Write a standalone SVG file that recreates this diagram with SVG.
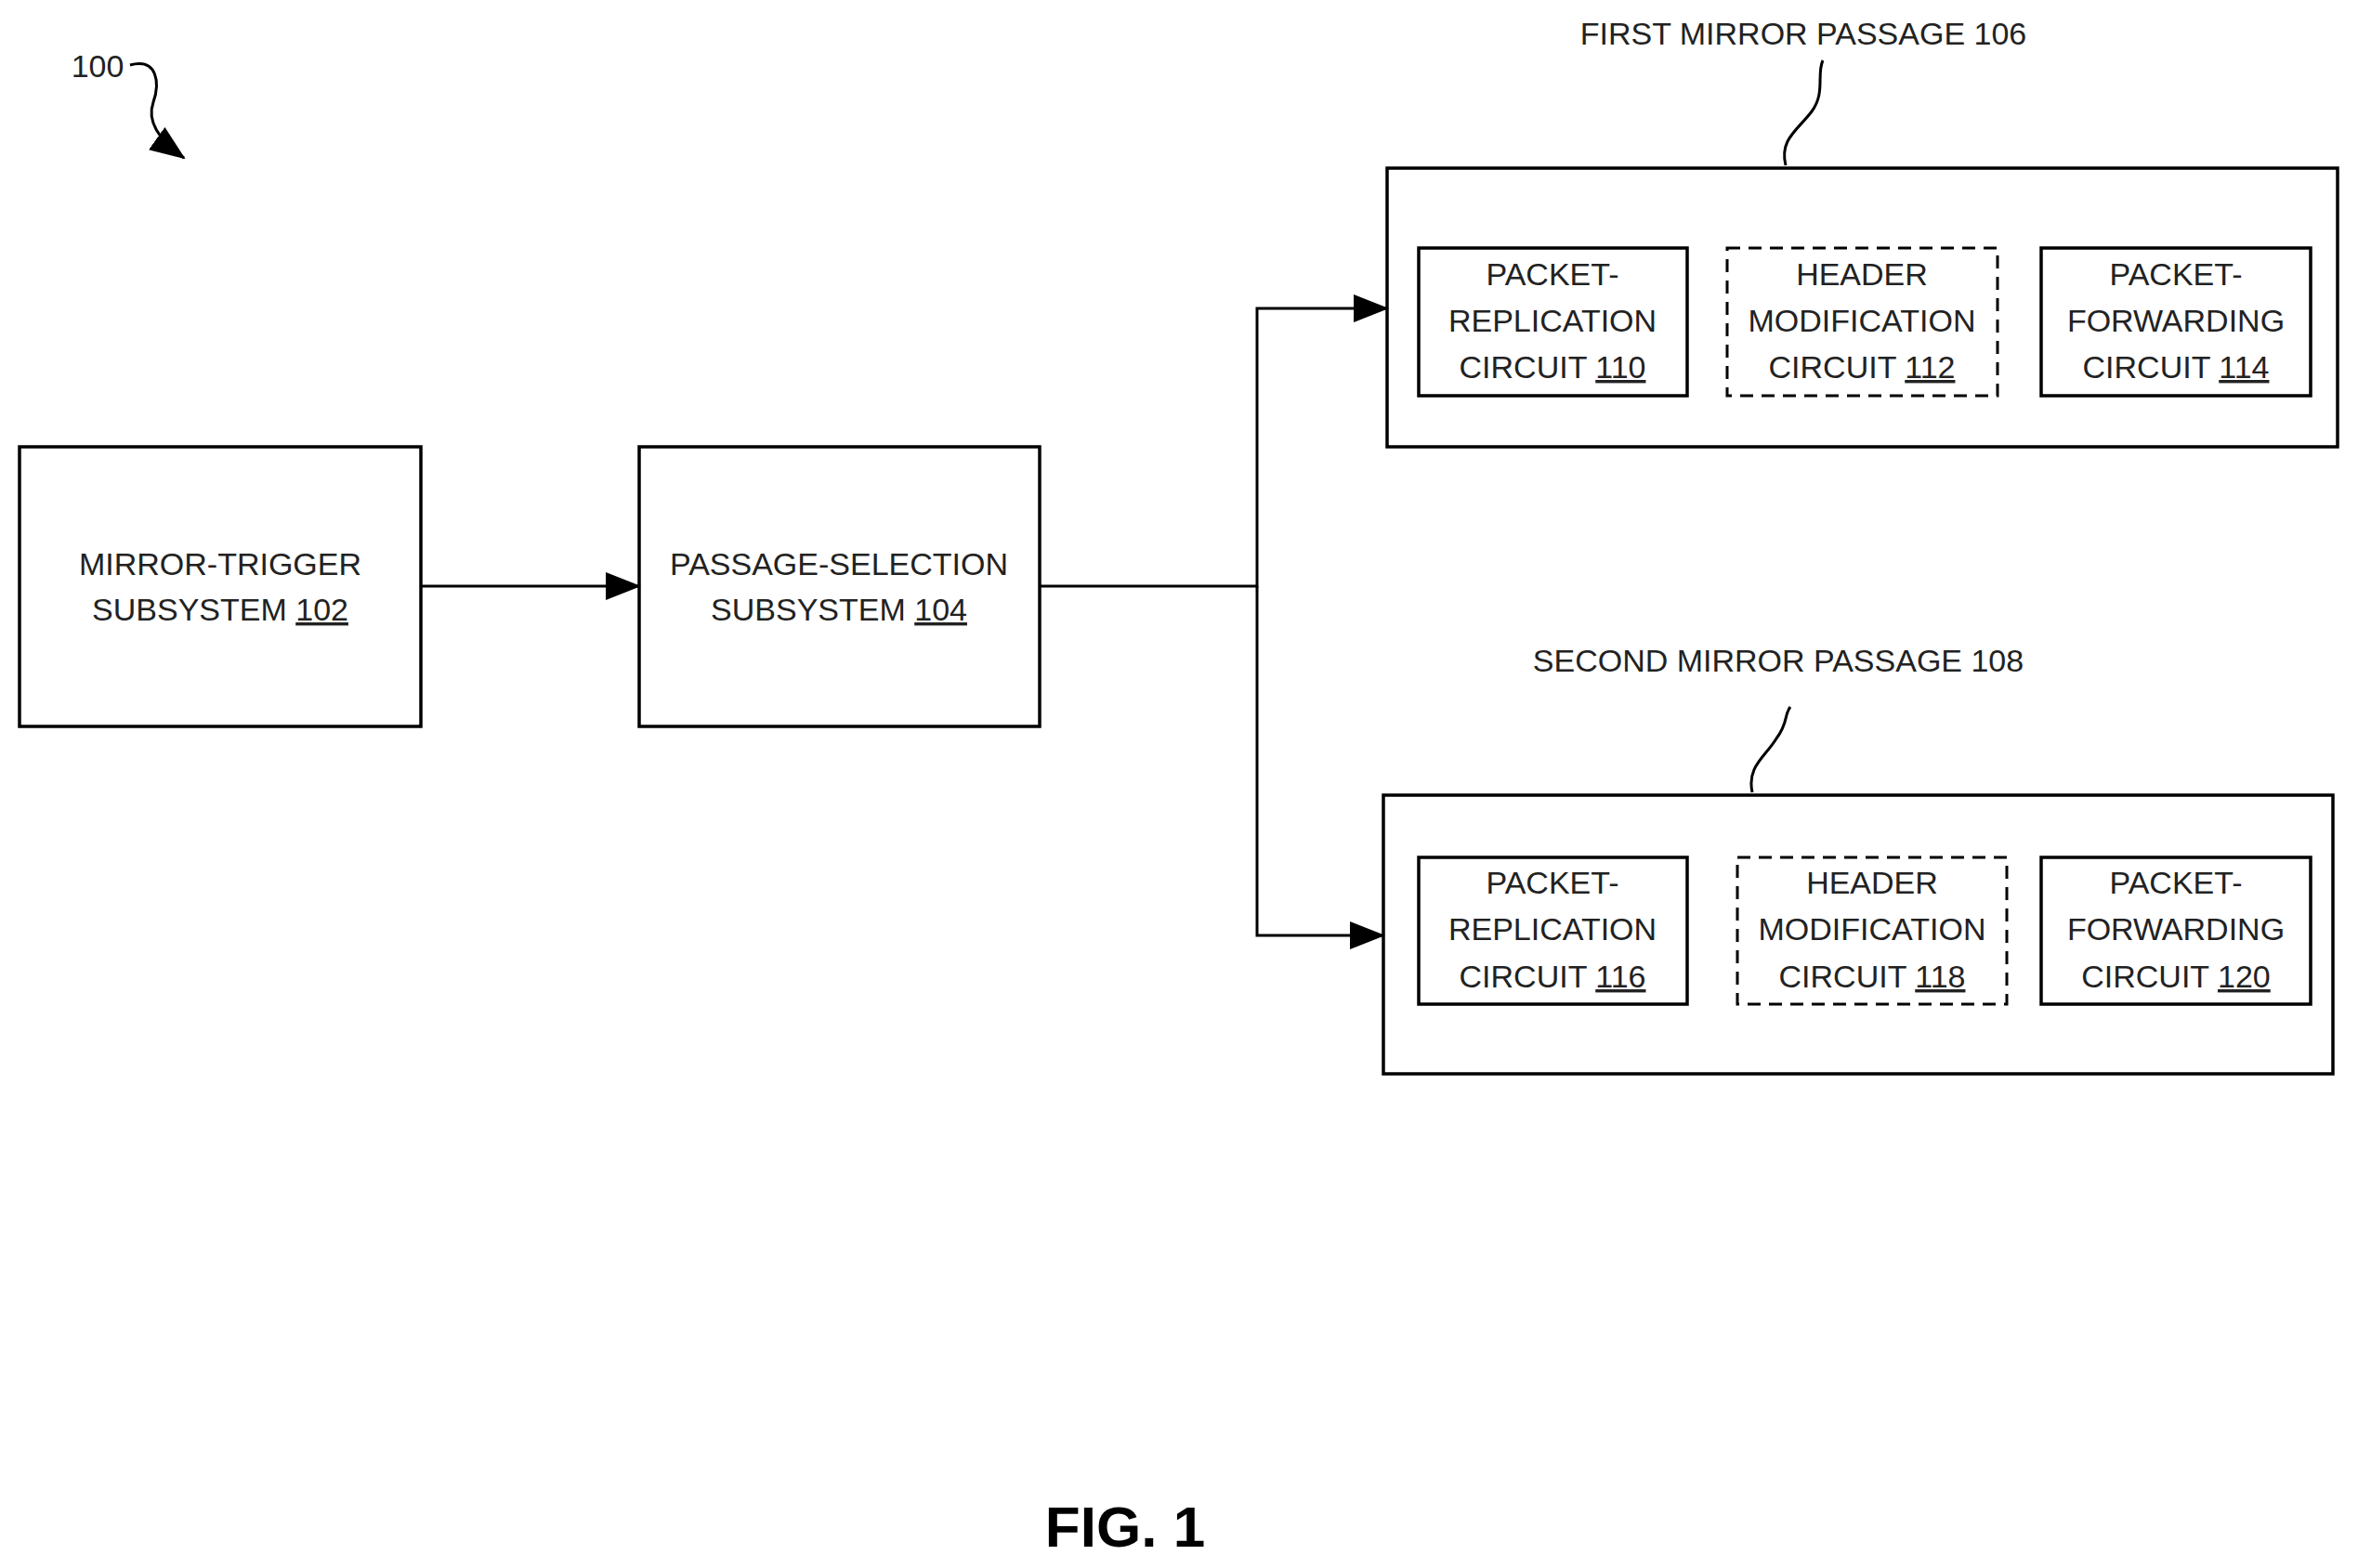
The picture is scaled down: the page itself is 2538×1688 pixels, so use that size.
<svg xmlns="http://www.w3.org/2000/svg" width="2538" height="1688" viewBox="0 0 2538 1688">
<style>
.b{fill:none;stroke:#000;stroke-width:3.5}
.d{fill:none;stroke:#000;stroke-width:3;stroke-dasharray:14 9}
.l{fill:none;stroke:#000;stroke-width:3}
text{font-family:"Liberation Sans",Arial,sans-serif;font-size:34px;fill:#222;text-anchor:middle}
.u{text-decoration:underline}
</style>
<defs><marker id="a" markerWidth="12" markerHeight="10" refX="11" refY="5" orient="auto" markerUnits="userSpaceOnUse" viewBox="0 0 12 10"><path d="M0,0L12,5L0,10z" fill="#000"/></marker>
<marker id="ah" markerWidth="38" markerHeight="30" refX="36" refY="15" orient="auto" markerUnits="userSpaceOnUse"><path d="M0,0L38,15L0,30z" fill="#000"/></marker></defs>
<rect width="2538" height="1688" fill="#fff"/>
<g id="ref100"><text x="105" y="83">100</text>
<path class="l" d="M140,70 C170,62 172,90 165,110 C158,130 170,150 198,170" marker-end="url(#ah)"/></g>
<g id="n102"><rect class="b" x="21" y="481" width="432" height="301"/><text x="237" y="619">MIRROR-TRIGGER</text><text x="237" y="668">SUBSYSTEM <tspan class="u">102</tspan></text></g>
<g id="n104"><rect class="b" x="688" y="481" width="431" height="301"/><text x="903" y="619">PASSAGE-SELECTION</text><text x="903" y="668">SUBSYSTEM <tspan class="u">104</tspan></text></g>
<g id="n106"><rect class="b" x="1493" y="181" width="1023" height="300"/><text x="1941" y="48">FIRST MIRROR PASSAGE 106</text>
<path class="l" d="M1922,178 C1915,150 1935,140 1950,120 C1965,100 1955,80 1962,65"/>
<g id="n110"><rect class="b" x="1527" y="267" width="289" height="159"/><text x="1671" y="307">PACKET-</text><text x="1671" y="357">REPLICATION</text><text x="1671" y="407">CIRCUIT <tspan class="u">110</tspan></text></g>
<g id="n112"><rect class="d" x="1859" y="267" width="291" height="159"/><text x="2004" y="307">HEADER</text><text x="2004" y="357">MODIFICATION</text><text x="2004" y="407">CIRCUIT <tspan class="u">112</tspan></text></g>
<g id="n114"><rect class="b" x="2197" y="267" width="290" height="159"/><text x="2342" y="307">PACKET-</text><text x="2342" y="357">FORWARDING</text><text x="2342" y="407">CIRCUIT <tspan class="u">114</tspan></text></g></g>
<g id="n108"><rect class="b" x="1489" y="856" width="1022" height="300"/><text x="1914" y="723">SECOND MIRROR PASSAGE 108</text>
<path class="l" d="M1886,853 C1880,825 1900,815 1912,795 C1925,778 1920,770 1927,761"/>
<g id="n116"><rect class="b" x="1527" y="923" width="289" height="158"/><text x="1671" y="962">PACKET-</text><text x="1671" y="1012">REPLICATION</text><text x="1671" y="1063">CIRCUIT <tspan class="u">116</tspan></text></g>
<g id="n118"><rect class="d" x="1870" y="923" width="290" height="158"/><text x="2015" y="962">HEADER</text><text x="2015" y="1012">MODIFICATION</text><text x="2015" y="1063">CIRCUIT <tspan class="u">118</tspan></text></g>
<g id="n120"><rect class="b" x="2197" y="923" width="290" height="158"/><text x="2342" y="962">PACKET-</text><text x="2342" y="1012">FORWARDING</text><text x="2342" y="1063">CIRCUIT <tspan class="u">120</tspan></text></g></g>
<g id="connectors">
<path class="l" d="M453,631H688" marker-end="url(#ah)"/>
<path class="l" d="M1119,631H1353V332H1493" marker-end="url(#ah)"/>
<path class="l" d="M1353,631V1007H1489" marker-end="url(#ah)"/>
</g>
<text x="1211" y="1665" style="font-size:62px;font-weight:bold;fill:#000">FIG. 1</text>
</svg>
